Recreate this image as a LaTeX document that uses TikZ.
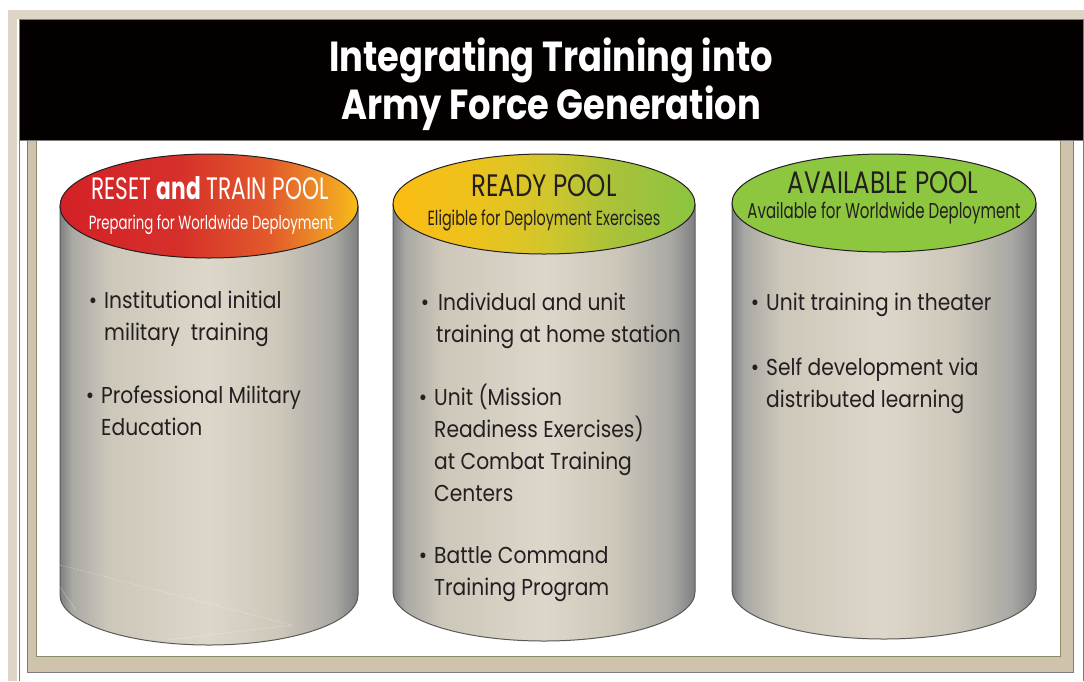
\documentclass[tikz,border=0pt]{standalone}
\usepackage{fontspec}
\setmainfont{Poppins}
\newfontfamily\titlefont[FakeStretch=0.84]{Poppins}
\newfontfamily\headfont[FakeStretch=0.70]{Poppins}
\newfontfamily\headwidefont[FakeStretch=0.79]{Poppins}
\newfontfamily\bodyfont[FakeStretch=0.88]{Poppins}
\definecolor{ink}{HTML}{231F20}
\definecolor{beigeout}{HTML}{DDD5C6}
\definecolor{tanband}{HTML}{CFC3AE}
\definecolor{olive}{HTML}{8A8C68}
\definecolor{frameline}{HTML}{7C7C7C}
\definecolor{cA}{HTML}{7E7F82}
\definecolor{cB}{HTML}{A9A8A3}
\definecolor{cC}{HTML}{CDC7BA}
\definecolor{cD}{HTML}{DDD7CB}
\definecolor{r1}{HTML}{D32127}
\definecolor{r2}{HTML}{D6302A}
\definecolor{r3}{HTML}{E2592B}
\definecolor{r4}{HTML}{EC8B27}
\definecolor{r5}{HTML}{F7BC1A}
\definecolor{y1}{HTML}{FBBC13}
\definecolor{y2}{HTML}{EEC21C}
\definecolor{y3}{HTML}{D3C62A}
\definecolor{y4}{HTML}{A8C23A}
\definecolor{y5}{HTML}{8BC43F}
\definecolor{gfill}{HTML}{8DC63F}
\pgfdeclarehorizontalshading{cylbody}{100bp}{color(0bp)=(cA); color(25bp)=(cA); color(27bp)=(cB); color(33bp)=(cC); color(50bp)=(cD); color(62bp)=(cC); color(71bp)=(cB); color(75bp)=(cA); color(100bp)=(cA)}
\pgfdeclarehorizontalshading{redtop}{100bp}{color(0bp)=(r1); color(25bp)=(r1); color(45bp)=(r2); color(60bp)=(r3); color(68bp)=(r4); color(75bp)=(r5); color(100bp)=(r5)}
\pgfdeclarehorizontalshading{yeltop}{100bp}{color(0bp)=(y1); color(25bp)=(y1); color(38bp)=(y2); color(50bp)=(y3); color(62bp)=(y4); color(75bp)=(y5); color(100bp)=(y5)}
\tikzset{
  bodyline/.style={draw=black!65, line width=1pt},
  topline/.style={draw=ink, line width=1pt},
  headtxt/.style={font=\headfont\fontsize{31}{31}\selectfont, inner sep=0pt, anchor=base},
  headwide/.style={font=\headwidefont\fontsize{31}{31}\selectfont, inner sep=0pt, anchor=base},
  subtxt/.style={font=\headfont\fontsize{#1}{#1}\selectfont, inner sep=0pt, anchor=base},
  itemtxt/.style={font=\bodyfont\fontsize{23}{32}\selectfont, text=ink, inner sep=0pt, anchor=base west, align=left},
  titletxt/.style={font=\titlefont\bfseries\fontsize{42}{48}\selectfont, text=white, inner sep=0pt, align=center},
}
\newcommand{\bul}{\llap{\textbullet\hspace{7pt}}}
\begin{document}
\begin{tikzpicture}[x=1pt, y=-1pt]
\useasboundingbox (0,0) rectangle (1084,681);
\fill[white] (0,0) rectangle (1084,681);
% outer beige frame
\fill[beigeout] (8,10) rectangle (1084,19);
\fill[beigeout] (8,10) rectangle (17,681);
\draw[frameline, line width=0.8pt] (19.5,140) -- (19.5,681);
\draw[frameline, line width=0.8pt] (1083.5,140) -- (1083.5,681);
% inner tan frame
\fill[tanband, draw=frameline, line width=0.8pt] (27,140) rectangle (1073,672);
\fill[white, draw=olive, line width=0.8pt] (36,140) rectangle (1060,656);
% black title band
\fill[black!98!red, draw=frameline, line width=0.8pt] (19.5,19.5) rectangle (1083.5,140);
\node[titletxt] (title) at (551,84) {Integrating Training into\\Army Force Generation};

% cylinder 1
\shade[shading=cylbody] (60,206) -- (60,595) arc[start angle=180, end angle=0, x radius=149, y radius=50] -- (358,206) -- cycle;
\draw[bodyline] (60,206) -- (60,595) arc[start angle=180, end angle=0, x radius=149, y radius=50] -- (358,206);
\draw[white, opacity=0.5, line width=0.4pt, dash pattern=on 2pt off 1.5pt] (60,565) -- (292,625) -- (167,640);
\draw[white, opacity=0.4, line width=0.4pt] (60,587) -- (76,610);
\shade[shading=redtop] (209,206) ellipse[x radius=149, y radius=52];
\draw[topline] (209,206) ellipse[x radius=149, y radius=52];
\node[headtxt, text=white] (h1) at (210,199) {RESET {\bfseries and} TRAIN POOL};
\node[subtxt=19, text=white] (s1) at (211,229) {Preparing for Worldwide Deployment};

% cylinder 2
\shade[shading=cylbody] (393,204) -- (393,592) arc[start angle=180, end angle=0, x radius=151, y radius=49] -- (695,204) -- cycle;
\draw[bodyline] (393,204) -- (393,592) arc[start angle=180, end angle=0, x radius=151, y radius=49] -- (695,204);
\shade[shading=yeltop] (544,204) ellipse[x radius=151, y radius=50];
\draw[topline] (544,204) ellipse[x radius=151, y radius=50];
\node[headwide, text=ink] (h2) at (544,196) {READY POOL};
\node[subtxt=20.5, text=ink] (s2) at (544,225) {Eligible for Deployment Exercises};

% cylinder 3
\shade[shading=cylbody] (732,203) -- (732,590) arc[start angle=180, end angle=0, x radius=152, y radius=49] -- (1036,203) -- cycle;
\draw[bodyline] (732,203) -- (732,590) arc[start angle=180, end angle=0, x radius=152, y radius=49] -- (1036,203);
\fill[gfill] (884,203) ellipse[x radius=152, y radius=49];
\draw[topline] (884,203) ellipse[x radius=152, y radius=49];
\node[headwide, text=ink] (h3) at (883,193) {AVAILABLE POOL};
\node[subtxt=21.5, text=ink] (s3) at (884,218) {Available for Worldwide Deployment};

% items (anchor at baseline of last line)
\node[itemtxt] (a1) at (104,340) {\bul Institutional initial\\military\ \ training};
\node[itemtxt] (a2) at (101,435) {\bul Professional Military\\Education};
\node[itemtxt] (b1) at (436,342) {\bul\hspace{2pt}Individual and unit\\training at home station};
\node[itemtxt] (b2) at (434,501) {\bul Unit (Mission\\Readiness Exercises)\\at Combat Training\\Centers};
\node[itemtxt] (b3) at (434,595) {\bul Battle Command\\Training Program};
\node[itemtxt] (c1) at (766,310) {\bul Unit training in theater};
\node[itemtxt] (c2) at (766,407) {\bul Self development via\\distributed learning};
\end{tikzpicture}
\end{document}
